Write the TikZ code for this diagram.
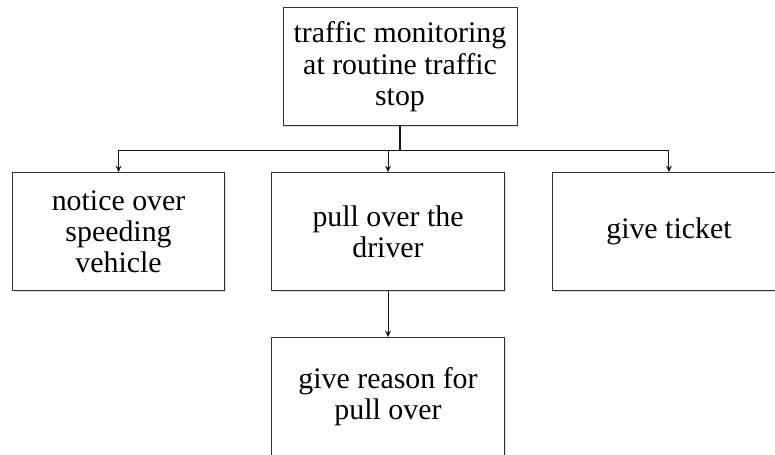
\documentclass[tikz,border=0pt]{standalone}
\usepackage{fontspec}
\setmainfont{Liberation Serif}
\usetikzlibrary{arrows.meta, positioning, shadows}
\definecolor{boxline}{RGB}{50,50,50}
\definecolor{arrowdark}{RGB}{20,20,20}
\tikzset{
  taskblock/.style={rectangle, draw=boxline, line width=0.8pt, fill=white,
    minimum width=6.99cm, minimum height=3.54cm, align=center,
    font=\fontsize{25.5}{26.6}\selectfont, inner sep=2pt,
    drop shadow={shadow xshift=1.2pt, shadow yshift=-1.2pt, opacity=0.25}},
  arrow/.style={-{Stealth[length=5.5pt, width=5pt]}, line width=0.8pt, color=arrowdark},
  stem/.style={line width=2pt, color=arrowdark},
}

\begin{document}
\begin{tikzpicture}[node distance=1.41cm and 1.4cm]
  \useasboundingbox (0,0) rectangle (23.25,-13.62);
  \clip (0,0) rectangle (23.25,-13.62);
  \node[taskblock, minimum width=7.02cm]
    (monitor) at (12,-2.0) {traffic monitoring\\at routine traffic\\stop};
  \node[taskblock, below=1.38cm of monitor, xshift=-0.36cm]
    (pullover) {pull over the\\driver};
  \node[taskblock, left=1.38cm of pullover, minimum width=6.36cm]
    (notice) {notice over\\speeding\\vehicle};
  \node[taskblock, right=1.41cm of pullover]
    (ticket) {give ticket};
  \node[taskblock, below=1.38cm of pullover]
    (reason) {give reason for\\pull over};

  % connectors
  \draw[stem] (monitor.south) -- ++(0,-0.72) coordinate (split);
  \draw[line width=0.8pt, arrowdark] (split -| notice.north) -- (split -| ticket.north);
  \foreach \n in {notice, pullover, ticket}
    \draw[arrow] (split -| \n.north) -- (\n.north);
  \draw[arrow] (pullover.south) -- (reason.north);
\end{tikzpicture}
\end{document}
